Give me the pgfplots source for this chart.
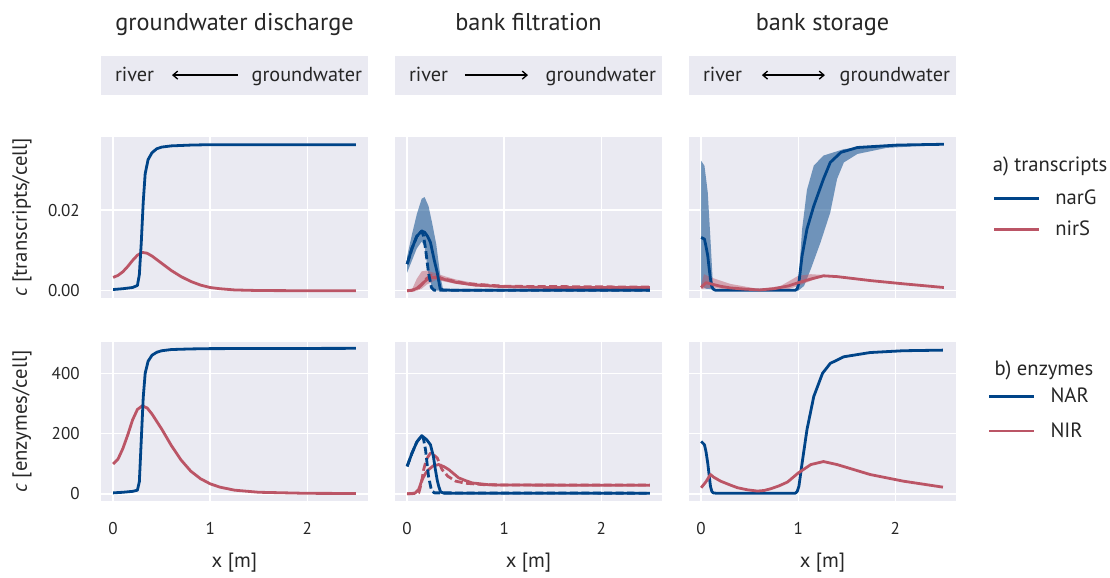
\documentclass[border=0pt]{standalone}
\usepackage{fontspec}
\setmainfont{PT Sans}
\usepackage{pgfplots}
\pgfplotsset{compat=1.18}
\usetikzlibrary{arrows.meta}
\definecolor{tblue}{HTML}{004488}
\definecolor{tred}{HTML}{BB5566}
\definecolor{bg}{HTML}{EAEAF2}
\newcommand{\tickfont}{\fontsize{12.8}{14}\selectfont}
\newcommand{\labfont}{\fontsize{15.5}{18}\selectfont}
\newcommand{\boxfont}{\fontsize{15.2}{18}\selectfont}
\newcommand{\titfont}{\fontsize{18.2}{21}\selectfont}
\pgfplotsset{
 base/.style={
  scale only axis, width=200.25pt,
  axis background/.style={fill=bg},
  axis line style={draw=none},
  tick align=outside, major tick length=12.5pt, major tick style={draw=none},
  ytick pos=left, xtick pos=bottom,
  grid=major, major grid style={white, line width=1.1pt},
  xmin=-0.125, xmax=2.625, xtick={0,1,2},
  /pgf/number format/assume math mode=true,
  tick label style={font=\tickfont, text=black!85},
  label style={font=\labfont, text=black!85},
  every y tick label/.append style={anchor=east},
  every x tick label/.append style={anchor=north},
  scaled y ticks=false,
  clip mode=individual,
 },
 ln/.style={line width=2.1pt, line join=round},
 row1/.style={base, height=120.75pt, ymin=-0.0018, ymax=0.0381, ytick={0,0.02}, xticklabels={}},
 row2/.style={base, height=119.25pt, ymin=-24, ymax=504, ytick={0,200,400},
   xlabel={x [m]}, xlabel style={at={(axis description cs:0.5,-0.39)}, anchor=center}},
 header/.style={scale only axis, width=200.25pt, height=28.9pt, xmin=0, xmax=1, ymin=0, ymax=1,
   axis background/.style={fill=bg}, axis line style={draw=none}, xtick=\empty, ytick=\empty,
   title style={font=\titfont, text=black!85, at={(axis description cs:0.5,1)}, anchor=base, yshift=13pt}},
 dsh/.style={dash pattern=on 6pt off 2.6pt},
 band/.style={draw=none, fill opacity=0.52, forget plot},
 lg/.style={legend style={draw=none, fill=none, inner sep=0pt, font=\labfont, text=black!85,
   row sep=7pt, /tikz/every odd column/.append style={column sep=9pt}},
   legend cell align=left,
   legend image code/.code={\draw[##1] (0pt,0pt) -- (33.75pt,0pt);}},
}
\begin{document}
\begin{tikzpicture}
\useasboundingbox (0,0) rectangle (832.5pt,-433.5pt);
% ---------------- headers ----------------
\begin{axis}[header, at={(75.75pt,-42pt)}, anchor=north west, title={groundwater discharge}]
 \node[anchor=base west, font=\boxfont, text=black!85] at (axis description cs:0.035,0.33) {river};
 \node[anchor=base east, font=\boxfont, text=black!85] at (axis description cs:0.995,0.33) {groundwater};
 \draw[{Straight Barb[length=3.5pt,width=6pt]}-, line width=1pt] (axis description cs:0.266,0.504) -- (axis description cs:0.513,0.504);
\end{axis}
\begin{axis}[header, at={(296.25pt,-42pt)}, anchor=north west, title={bank filtration}]
 \node[anchor=base west, font=\boxfont, text=black!85] at (axis description cs:0.035,0.33) {river};
 \node[anchor=base east, font=\boxfont, text=black!85] at (axis description cs:0.995,0.33) {groundwater};
 \draw[-{Straight Barb[length=3.5pt,width=6pt]}, line width=1pt] (axis description cs:0.262,0.504) -- (axis description cs:0.498,0.504);
\end{axis}
\begin{axis}[header, at={(516.75pt,-42pt)}, anchor=north west, title={bank storage}]
 \node[anchor=base west, font=\boxfont, text=black!85] at (axis description cs:0.035,0.33) {river};
 \node[anchor=base east, font=\boxfont, text=black!85] at (axis description cs:0.995,0.33) {groundwater};
 \draw[{Straight Barb[length=3.5pt,width=6pt]}-{Straight Barb[length=3.5pt,width=6pt]}, line width=1pt] (axis description cs:0.273,0.504) -- (axis description cs:0.509,0.504);
\end{axis}
% ---------------- row 1: transcripts ----------------
\begin{axis}[row1, at={(75.75pt,-102.75pt)}, anchor=north west, yticklabels={0.00,0.02},
  ylabel={\textit{c} [transcripts/cell]}, ylabel style={at={(axis description cs:-0.296,0.5)}, anchor=center}]
\addplot[ln, tred] coordinates {(0,0.0033)(0.05,0.0038)(0.1,0.0047)(0.15,0.006)(0.2,0.0075)(0.25,0.0088)(0.3,0.0095)(0.35,0.0093)(0.4,0.0086)(0.5,0.0068)(0.6,0.005)(0.7,0.0035)(0.8,0.0023)(0.9,0.0014)(1.0,0.0008)(1.1,0.0005)(1.25,0.0002)(1.5,0.00005)(2.0,0)(2.5,0)};
\addplot[ln, tblue] coordinates {(0,0.0003)(0.1,0.0005)(0.2,0.0008)(0.25,0.0013)(0.27,0.004)(0.29,0.012)(0.31,0.022)(0.33,0.029)(0.36,0.0325)(0.4,0.0342)(0.45,0.0352)(0.5,0.0356)(0.6,0.0359)(0.8,0.0361)(1.0,0.0362)(1.5,0.0362)(2.5,0.0362)};
\end{axis}
\begin{axis}[row1, at={(296.25pt,-102.75pt)}, anchor=north west, yticklabels={}]
\addplot[band, fill=tblue] coordinates {(0,0.0085)(0.05,0.014)(0.1,0.019)(0.15,0.0228)(0.18,0.0232)(0.22,0.021)(0.26,0.0165)(0.3,0.0115)(0.34,0.004)(0.37,0.0003)(0.4,0)(0.3,0)(0.26,0.0005)(0.22,0.004)(0.18,0.011)(0.15,0.0122)(0.1,0.0105)(0.05,0.0075)(0,0.0045)} -- cycle;
\addplot[band, fill=tred, fill opacity=0.45] coordinates {(0.05,0.0003)(0.1,0.003)(0.15,0.0048)(0.2,0.005)(0.3,0.0043)(0.4,0.0035)(0.5,0.0028)(0.7,0.0019)(1.0,0.0013)(1.5,0.001)(2.5,0.0009)(2.5,0.0006)(1.5,0.0007)(1.0,0.0008)(0.7,0.0011)(0.5,0.0017)(0.4,0.0022)(0.3,0.0027)(0.2,0.0015)(0.15,0.0005)(0.1,0)(0.05,0)} -- cycle;
\addplot[ln, tred, dsh] coordinates {(0,0)(0.1,0.0003)(0.15,0.0015)(0.2,0.003)(0.25,0.0038)(0.3,0.0035)(0.4,0.0028)(0.6,0.0018)(1.0,0.0011)(2.5,0.0009)};
\addplot[ln, tred] coordinates {(0,0)(0.05,0.0001)(0.1,0.0006)(0.15,0.0016)(0.2,0.0027)(0.25,0.0033)(0.3,0.0033)(0.4,0.0027)(0.5,0.0021)(0.7,0.0014)(1.0,0.001)(1.5,0.0008)(2.5,0.0008)};
\addplot[ln, tblue, dsh] coordinates {(0,0.0066)(0.05,0.0105)(0.1,0.0135)(0.15,0.0148)(0.17,0.0135)(0.19,0.0103)(0.22,0.0045)(0.25,0.0008)(0.28,0.0001)(2.5,0.0001)};
\addplot[ln, tblue] coordinates {(0,0.0066)(0.05,0.0105)(0.1,0.0135)(0.15,0.0148)(0.18,0.0145)(0.21,0.0135)(0.24,0.012)(0.28,0.0075)(0.31,0.0045)(0.34,0.0005)(0.37,0.0002)(0.5,0.0001)(2.5,0.0001)};
\end{axis}
\begin{axis}[row1, lg, at={(516.75pt,-102.75pt)}, anchor=north west, yticklabels={},
  legend style={at={(axis description cs:1.137,0.69)}, anchor=north west}]
\addplot[band, fill=tblue] coordinates {(0,0.0322)(0.034,0.031)(0.068,0.0244)(0.096,0.0128)(0.12,0.002)(0.14,0)(0.1,0.0004)(0.05,0.0005)(0,0.0012)} -- cycle;
\addplot[band, fill=tblue] coordinates {(0.98,0)(1.0,0.0012)(1.04,0.0153)(1.09,0.025)(1.16,0.031)(1.26,0.0335)(1.47,0.0351)(1.75,0.0358)(2.5,0.0363)(2.5,0.0362)(1.91,0.0354)(1.61,0.0339)(1.47,0.0318)(1.40,0.0277)(1.33,0.0194)(1.23,0.012)(1.13,0.0054)(1.06,0.0012)(1.0,0)} -- cycle;
\addplot[band, fill=tred, fill opacity=0.45] coordinates {(0,0.0015)(0.03,0.0041)(0.1,0.0033)(0.3,0.0017)(0.6,0.0004)(0.82,0.0012)(1.0,0.0037)(1.13,0.0041)(1.26,0.0039)(1.4,0.0036)(1.4,0.0034)(1.26,0.0036)(1.19,0.003)(1.08,0.002)(1.0,0.0012)(0.9,0.0004)(0.6,0)(0.38,0)(0.1,0.0008)(0,0.0004)} -- cycle;
\addplot[ln, tblue] coordinates {(0,0.0132)(0.034,0.0128)(0.05,0.011)(0.068,0.0087)(0.085,0.005)(0.096,0.0029)(0.11,0.001)(0.125,0.0004)(0.15,0.0001)(0.97,0.0001)(0.99,0.0005)(1.007,0.002)(1.04,0.0087)(1.09,0.0153)(1.16,0.021)(1.26,0.0277)(1.33,0.0318)(1.44,0.0343)(1.61,0.0355)(2.02,0.0361)(2.5,0.0363)};
\addlegendentry{narG}
\addplot[ln, tred] coordinates {(0,0.0008)(0.05,0.002)(0.1,0.0017)(0.2,0.0011)(0.3,0.0007)(0.45,0.0004)(0.6,0.0002)(0.75,0.0005)(0.9,0.0012)(1.0,0.002)(1.13,0.0029)(1.26,0.0037)(1.4,0.0035)(1.75,0.0025)(2.09,0.0017)(2.5,0.0008)};
\addlegendentry{nirS}
\node[anchor=base west, font=\labfont, text=black!85] at (axis description cs:1.12,0.784) {a) transcripts};
\end{axis}
% ---------------- row 2: enzymes ----------------
\begin{axis}[row2, at={(75.75pt,-256.5pt)}, anchor=north west,
  ylabel={\textit{c} [enzymes/cell]}, ylabel style={at={(axis description cs:-0.296,0.5)}, anchor=center}]
\addplot[ln, tred] coordinates {(0,99)(0.05,115)(0.1,150)(0.15,195)(0.2,245)(0.25,280)(0.3,292)(0.35,285)(0.4,265)(0.5,215)(0.6,160)(0.7,112)(0.8,75)(0.9,50)(1.0,33)(1.1,22)(1.25,12)(1.5,5)(2.0,1.5)(2.5,1)};
\addplot[ln, tblue] coordinates {(0,3)(0.1,5)(0.2,8)(0.25,12)(0.27,40)(0.29,180)(0.31,320)(0.33,400)(0.36,440)(0.4,460)(0.45,470)(0.5,475)(0.6,479)(0.8,481)(1.0,482)(2.5,483)};
\end{axis}
\begin{axis}[row2, at={(296.25pt,-256.5pt)}, anchor=north west, yticklabels={}]
\addplot[ln, tred, dsh] coordinates {(0,0)(0.1,1)(0.12,3)(0.15,40)(0.17,80)(0.2,115)(0.24,135)(0.27,130)(0.31,119)(0.36,80)(0.42,58)(0.5,42)(0.6,35)(0.8,30)(1.0,29)(2.5,29)};
\addplot[ln, tred] coordinates {(0,0)(0.05,1)(0.085,3)(0.12,15)(0.154,47)(0.19,68)(0.22,80)(0.27,93)(0.325,97)(0.38,90)(0.43,80)(0.53,53)(0.6,44)(0.67,36)(0.84,30)(1.0,29)(2.5,28)};
\addplot[ln, tblue, dsh] coordinates {(0,91)(0.05,135)(0.1,172)(0.15,193)(0.17,180)(0.19,145)(0.22,58)(0.25,12)(0.28,3)(2.5,2)};
\addplot[ln, tblue] coordinates {(0,91)(0.05,135)(0.1,172)(0.15,193)(0.2,180)(0.24,163)(0.27,125)(0.29,82)(0.31,45)(0.325,25)(0.345,6)(0.38,2)(2.5,2)};
\end{axis}
\begin{axis}[row2, lg, at={(516.75pt,-256.5pt)}, anchor=north west, yticklabels={},
  legend style={at={(axis description cs:1.119,0.73)}, anchor=north west, row sep=9.5pt}]
\addplot[ln, tblue] coordinates {(0,174)(0.034,163)(0.05,140)(0.068,102)(0.085,55)(0.096,25)(0.11,8)(0.125,3)(0.15,2)(0.97,2)(0.99,8)(1.007,25)(1.04,102)(1.09,213)(1.16,323)(1.25,400)(1.33,433)(1.47,455)(1.74,469)(2.08,475)(2.49,477)};
\addlegendentry{NAR}
\addplot[ln, tred] coordinates {(0,20)(0.05,40)(0.096,64)(0.13,55)(0.2,42)(0.3,29)(0.375,20)(0.48,13)(0.58,9)(0.65,11)(0.72,17)(0.8,26)(0.89,39)(1.0,69)(1.13,97)(1.26,107)(1.40,97)(1.74,64)(2.08,42)(2.49,22)};
\addlegendentry{NIR}
\node[anchor=base west, font=\labfont, text=black!85] at (axis description cs:1.127,0.79) {b) enzymes};
\end{axis}
\end{tikzpicture}
\end{document}
